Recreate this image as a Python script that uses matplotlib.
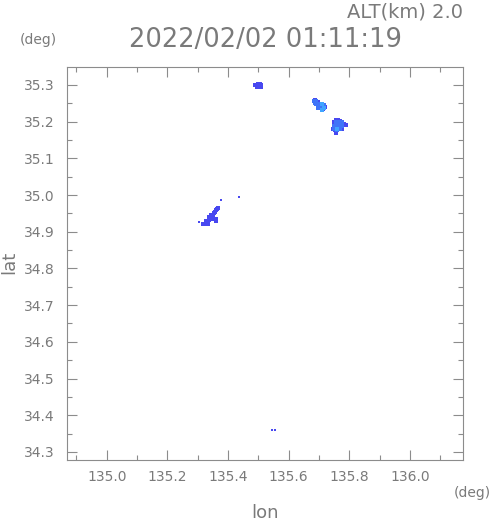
import matplotlib
matplotlib.use("Agg")
import matplotlib.pyplot as plt
from matplotlib.ticker import MultipleLocator

# ---- data (lon, lat of echo cells) ----
dark_lon = [135.490, 135.497, 135.503, 135.508, 135.497, 135.503, 135.508, 135.500, 135.506,
            135.697, 135.716, 135.720, 135.713, 135.686,
            135.756, 135.763, 135.769, 135.750, 135.782, 135.789, 135.745, 135.752, 135.756, 135.776,
            135.368, 135.364, 135.361, 135.357, 135.354, 135.351, 135.347, 135.344, 135.341, 135.338,
            135.334, 135.331, 135.325, 135.318, 135.334, 135.355, 135.361, 135.344, 135.338,
            135.328, 135.321, 135.362]
dark_lat = [35.299, 35.299, 35.299, 35.299, 35.294, 35.294, 35.294, 35.304, 35.304,
            35.254, 35.243, 35.240, 35.234, 35.258,
            35.205, 35.205, 35.203, 35.198, 35.195, 35.192, 35.181, 35.176, 35.170, 35.181,
            34.966, 34.963, 34.958, 34.955, 34.952, 34.947, 34.944, 34.941, 34.936, 34.933,
            34.930, 34.925, 34.922, 34.922, 34.922, 34.934, 34.934, 34.947, 34.941,
            34.928, 34.920, 34.930]

speck_lon = [135.305, 135.377, 135.437, 135.546, 135.554, 135.555]
speck_lat = [34.926, 34.986, 34.996, 34.361, 34.361, 34.359]

mid_lon = [135.683, 135.690, 135.690, 135.697, 135.703, 135.697, 135.703, 135.710, 135.703, 135.710,
           135.686, 135.697, 135.716,
           135.756, 135.763, 135.769, 135.775, 135.756, 135.763, 135.769, 135.776, 135.750, 135.756,
           135.763, 135.769, 135.776, 135.750, 135.756, 135.763, 135.769, 135.759]
mid_lat = [35.255, 35.255, 35.249, 35.249, 35.249, 35.243, 35.243, 35.243, 35.237, 35.237,
           35.251, 35.238, 35.246,
           35.198, 35.198, 35.198, 35.198, 35.192, 35.192, 35.192, 35.192, 35.187, 35.187,
           35.187, 35.187, 35.187, 35.181, 35.181, 35.181, 35.181, 35.176]

light_lon = [135.710, 135.716, 135.710, 135.760]
light_lat = [35.249, 35.237, 35.232, 35.179]

x_ticks = [135.0, 135.2, 135.4, 135.6, 135.8, 136.0]
y_ticks = [34.3, 34.4, 34.5, 34.6, 34.7, 34.8, 34.9, 35.0, 35.1, 35.2, 35.3]

gray = "#7a7a7a"
fig = plt.figure(figsize=(4.91, 5.21), dpi=100)
ax = fig.add_axes([67 / 491, 1 - 460 / 521, 396 / 491, 393 / 521])

ms = 6
ax.scatter(dark_lon, dark_lat, marker="s", s=ms, c="#4848f0", linewidths=0)
ax.scatter(mid_lon, mid_lat, marker="s", s=ms, c="#3f74f8", linewidths=0)
ax.scatter(light_lon, light_lat, marker="s", s=ms, c="#40a4ff", linewidths=0)
ax.scatter(speck_lon, speck_lat, marker="s", s=1.5, c="#4848f0", linewidths=0)

ax.set_xlim(134.869, 136.175)
ax.set_ylim(34.278, 35.349)
ax.set_xticks(x_ticks)
ax.set_xticklabels([f"{v:.1f}" for v in x_ticks])
ax.set_yticks(y_ticks)
ax.set_yticklabels([f"{v:.1f}" for v in y_ticks])
ax.xaxis.set_minor_locator(MultipleLocator(0.1))
ax.yaxis.set_minor_locator(MultipleLocator(0.05))
ax.tick_params(which="both", direction="in", top=True, right=True, colors="#8c8c8c",
               labelcolor=gray, labelsize=10)
ax.tick_params(which="major", length=7, width=0.8)
ax.tick_params(which="minor", length=3.5, width=0.8)
ax.tick_params(axis="x", pad=7)
ax.tick_params(axis="y", pad=9)
for sp in ax.spines.values():
    sp.set_color("#8c8c8c")
    sp.set_linewidth(0.8)

fig.text(463 / 491, 1 - 12 / 521, "ALT(km) 2.0", ha="right", va="center", fontsize=14, color=gray)
fig.text(265 / 491, 1 - 40 / 521, "2022/02/02 01:11:19", ha="center", va="center", fontsize=18.5, color=gray)
fig.text(38 / 491, 1 - 40 / 521, "(deg)", ha="center", va="center", fontsize=10, color=gray)
fig.text(472 / 491, 1 - 493 / 521, "(deg)", ha="center", va="center", fontsize=10, color=gray)
fig.text(265 / 491, 1 - 513 / 521, "lon", ha="center", va="center", fontsize=13, color=gray)
fig.text(9 / 491, 1 - 262 / 521, "lat", ha="center", va="center", fontsize=13, color=gray, rotation=90)

fig.savefig("out.png", dpi=100)
